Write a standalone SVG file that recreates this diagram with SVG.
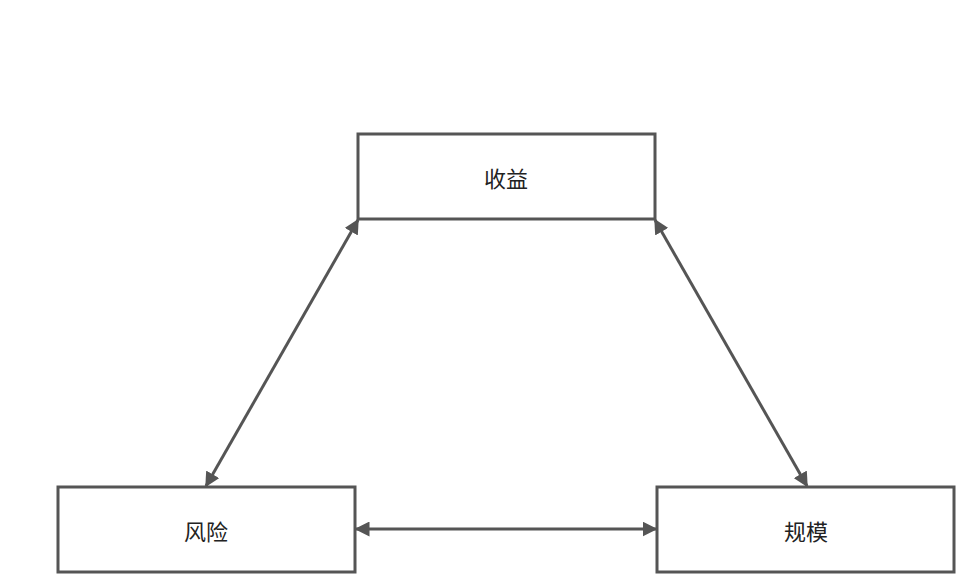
<svg xmlns="http://www.w3.org/2000/svg" width="960" height="576" viewBox="0 0 960 576">
<style>
.box{fill:#fff;stroke:#555;stroke-width:3}
.lbl{font-family:"Noto Sans CJK SC","Noto Sans",sans-serif;font-size:22px;fill:#222;text-anchor:middle;dominant-baseline:central}
.con{stroke:#555;stroke-width:3;fill:none;marker-start:url(#ah);marker-end:url(#ah)}
</style>
<defs>
<marker id="ah" viewBox="0 0 10 10" refX="9" refY="5" markerWidth="5" markerHeight="5" orient="auto-start-reverse" markerUnits="strokeWidth">
<path d="M0,0 L10,5 L0,10 z" fill="#555"/>
</marker>
</defs>
<rect width="960" height="576" fill="#fff"/>
<g id="connectors">
<line class="con" x1="358" y1="220" x2="206" y2="486"/>
<line class="con" x1="655" y1="220" x2="807" y2="486"/>
<line class="con" x1="356" y1="529" x2="656" y2="529"/>
</g>
<g id="node-shouyi">
<rect class="box" x="358" y="134" width="297" height="85"/>
<text class="lbl" x="506" y="177">收益</text>
</g>
<g id="node-fengxian">
<rect class="box" x="58" y="487" width="297" height="85"/>
<text class="lbl" x="206" y="530">风险</text>
</g>
<g id="node-guimo">
<rect class="box" x="657" y="487" width="297" height="85"/>
<text class="lbl" x="806" y="530">规模</text>
</g>
</svg>
